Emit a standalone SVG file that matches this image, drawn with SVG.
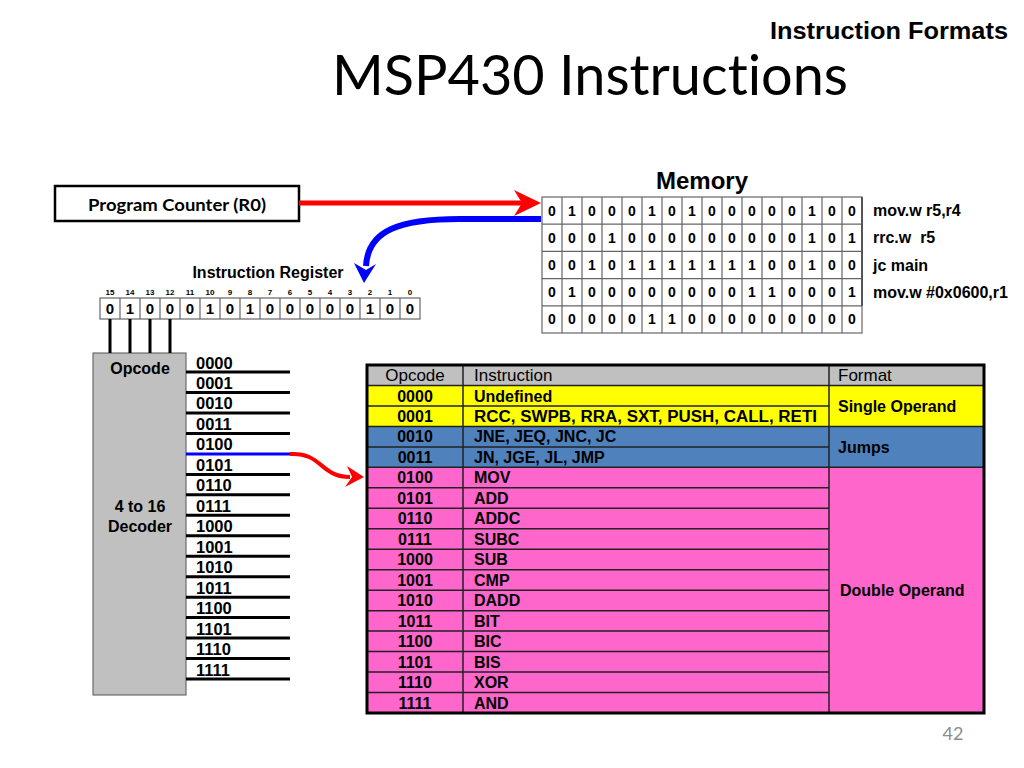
<svg xmlns="http://www.w3.org/2000/svg" width="1024" height="768" viewBox="0 0 1024 768">
<style>
.b{font-family:"Liberation Sans",Arial,sans-serif;font-weight:bold;fill:#000}
.r{font-family:"Liberation Sans",Arial,sans-serif;font-weight:normal;fill:#000}
.c{text-anchor:middle}
.cal{font-family:Lato,"Open Sans",sans-serif;font-variant-ligatures:none}
.cell{fill:#fff;stroke:#666;stroke-width:1.2}
.tl{stroke:#222;stroke-width:1.5;fill:none}
.wire{stroke:#000;stroke-width:3;fill:none}
</style>
<rect width="1024" height="768" fill="#fff"/>
<text class="b" x="1008" y="39" font-size="23" text-anchor="end" textLength="238" lengthAdjust="spacingAndGlyphs">Instruction Formats</text>
<text class="cal" x="332" y="95" font-size="57" textLength="516" lengthAdjust="spacingAndGlyphs" fill="#000">MSP430 Instructions</text>

<g id="pc">
<rect x="55" y="186" width="244" height="35" fill="#fff" stroke="#000" stroke-width="2.5"/>
<text class="cal c" x="177" y="211" font-size="17" font-weight="bold" textLength="178" lengthAdjust="spacingAndGlyphs">Program Counter (R0)</text>
</g>

<g id="memory">
<text class="b c" x="702" y="189" font-size="24">Memory</text>
<g>
<rect class="cell" x="542" y="197" width="320" height="136"/>
<path d="M542 224.2H862M542 251.4H862M542 278.6H862M542 305.8H862" stroke="#666" stroke-width="1.2"/>
<path d="M562 197V333M582 197V333M602 197V333M622 197V333M642 197V333M662 197V333M682 197V333M702 197V333M722 197V333M742 197V333M762 197V333M782 197V333M802 197V333M822 197V333M842 197V333" stroke="#666" stroke-width="1.2"/>
<path d="M862 197V306" stroke="#555" stroke-width="2"/>
</g>
<g class="b c" font-size="14">
<text x="552 572 592 612 632 652 672 692 712 732 752 772 792 812 832 852" y="215.6">0100010100000100</text>
<text x="552 572 592 612 632 652 672 692 712 732 752 772 792 812 832 852" y="242.8">0001000000000101</text>
<text x="552 572 592 612 632 652 672 692 712 732 752 772 792 812 832 852" y="270">0010111111100100</text>
<text x="552 572 592 612 632 652 672 692 712 732 752 772 792 812 832 852" y="297.2">0100000000110001</text>
<text x="552 572 592 612 632 652 672 692 712 732 752 772 792 812 832 852" y="324.4">0000011000000000</text>
</g>
<g class="b" font-size="16">
<text x="873" y="216">mov.w r5,r4</text>
<text x="873" y="243" xml:space="preserve">rrc.w  r5</text>
<text x="873" y="271">jc main</text>
<text x="873" y="298">mov.w #0x0600,r1</text>
</g>
</g>

<g id="instruction-register">
<text class="b c" x="268" y="278" font-size="16">Instruction Register</text>
<g class="b c" font-size="8">
<text x="110" y="295">15</text><text x="130" y="295">14</text><text x="150" y="295">13</text><text x="170" y="295">12</text>
<text x="190" y="295">11</text><text x="210" y="295">10</text><text x="230" y="295">9</text><text x="250" y="295">8</text>
<text x="270" y="295">7</text><text x="290" y="295">6</text><text x="310" y="295">5</text><text x="330" y="295">4</text>
<text x="350" y="295">3</text><text x="370" y="295">2</text><text x="390" y="295">1</text><text x="410" y="295">0</text>
</g>
<rect class="cell" x="100" y="298" width="320" height="21"/>
<path d="M120 298V319M140 298V319M160 298V319M180 298V319M200 298V319M220 298V319M240 298V319M260 298V319M280 298V319M300 298V319M320 298V319M340 298V319M360 298V319M380 298V319M400 298V319" stroke="#666" stroke-width="1.2"/>
<text class="b c" font-size="15" x="110 130 150 170 190 210 230 250 270 290 310 330 350 370 390 410" y="314">0100010100000100</text>
</g>

<g id="decoder">
<rect x="93" y="353" width="93" height="342" fill="#c0c0c0" stroke="#555" stroke-width="1"/>
<text class="b c" x="140" y="374" font-size="16">Opcode</text>
<text class="b c" x="140" y="512" font-size="16">4 to 16</text>
<text class="b c" x="140" y="532" font-size="16">Decoder</text>
<path class="wire" d="M186 372H290M186 392.5H290M186 412.9H290M186 433.4H290M186 474.4H290M186 494.8H290M186 515.3H290M186 535.8H290M186 556.2H290M186 576.7H290M186 597.2H290M186 617.6H290M186 638.1H290M186 658.6H290M186 679.1H290"/>
<g class="b" font-size="16.5">
<text x="196" y="368.5">0000</text><text x="196" y="389">0001</text><text x="196" y="409.4">0010</text><text x="196" y="429.9">0011</text>
<text x="196" y="450.4">0100</text><text x="196" y="470.9">0101</text><text x="196" y="491.3">0110</text><text x="196" y="511.8">0111</text>
<text x="196" y="532.3">1000</text><text x="196" y="552.7">1001</text><text x="196" y="573.2">1010</text><text x="196" y="593.7">1011</text>
<text x="196" y="614.1">1100</text><text x="196" y="634.6">1101</text><text x="196" y="655.1">1110</text><text x="196" y="675.6">1111</text>
</g>
</g>

<g id="format-table">
<rect x="367" y="365" width="617" height="20.47" fill="#c0c0c0"/>
<rect x="367" y="385.47" width="617" height="40.94" fill="#ffff00"/>
<rect x="367" y="426.41" width="617" height="40.94" fill="#4f81bd"/>
<rect x="367" y="467.35" width="617" height="245.65" fill="#ff66cc"/>
<path class="tl" d="M367 385.47H984M367 405.94H829M367 426.41H984M367 446.88H829M367 467.35H984M367 487.82H829M367 508.29H829M367 528.76H829M367 549.23H829M367 569.7H829M367 590.17H829M367 610.64H829M367 631.11H829M367 651.58H829M367 672.05H829M367 692.52H829M463 365V713M829 365V713"/>
<rect x="367" y="365" width="617" height="348" fill="none" stroke="#000" stroke-width="3"/>
<g class="r" font-size="17">
<text class="c" x="415" y="381">Opcode</text><text x="474" y="381">Instruction</text><text x="838" y="381">Format</text>
</g>
<g class="b c" font-size="16">
<text x="415" y="401.5">0000</text><text x="415" y="422">0001</text><text x="415" y="442.4">0010</text><text x="415" y="462.9">0011</text>
<text x="415" y="483.4">0100</text><text x="415" y="503.9">0101</text><text x="415" y="524.3">0110</text><text x="415" y="544.8">0111</text>
<text x="415" y="565.3">1000</text><text x="415" y="585.7">1001</text><text x="415" y="606.2">1010</text><text x="415" y="626.7">1011</text>
<text x="415" y="647.1">1100</text><text x="415" y="667.6">1101</text><text x="415" y="688.1">1110</text><text x="415" y="708.6">1111</text>
</g>
<g class="b" font-size="16">
<text x="474" y="401.5">Undefined</text>
<text x="474" y="422" textLength="343" lengthAdjust="spacingAndGlyphs">RCC, SWPB, RRA, SXT, PUSH, CALL, RETI</text>
<text x="474" y="442.4">JNE, JEQ, JNC, JC</text><text x="474" y="462.9">JN, JGE, JL, JMP</text>
<text x="474" y="483.4">MOV</text><text x="474" y="503.9">ADD</text><text x="474" y="524.3">ADDC</text><text x="474" y="544.8">SUBC</text>
<text x="474" y="565.3">SUB</text><text x="474" y="585.7">CMP</text><text x="474" y="606.2">DADD</text><text x="474" y="626.7">BIT</text>
<text x="474" y="647.1">BIC</text><text x="474" y="667.6">BIS</text><text x="474" y="688.1">XOR</text><text x="474" y="708.6">AND</text>
<text x="838" y="411.7">Single Operand</text>
<text x="838" y="452.7">Jumps</text>
<text x="840" y="596">Double Operand</text>
</g>
</g>

<g id="connectors">
<path d="M299 203H522" stroke="#ff0000" stroke-width="5" fill="none"/>
<polygon points="541,203 514,190 522,203 514,216" fill="#ff0000"/>
<path d="M541 219H460C400 219 368 230 366 266" stroke="#0000ff" stroke-width="6" fill="none"/>
<polygon points="364,283 354,263 366,270 376,264" fill="#0000ff"/>
<path d="M110 319V353M130 319V353M150 319V353M170 319V353" class="wire"/>
<path d="M186 453.9H290" stroke="#0000ff" stroke-width="3" fill="none"/>
<path d="M290 454C322 452 320 477 350 477" stroke="#ff0000" stroke-width="4" fill="none"/>
<polygon points="364,477 347,466 352,477 345,487" fill="#ff0000"/>
</g>

<text class="cal c" x="953" y="740" font-size="18" fill="#8c8c8c">42</text>
</svg>
